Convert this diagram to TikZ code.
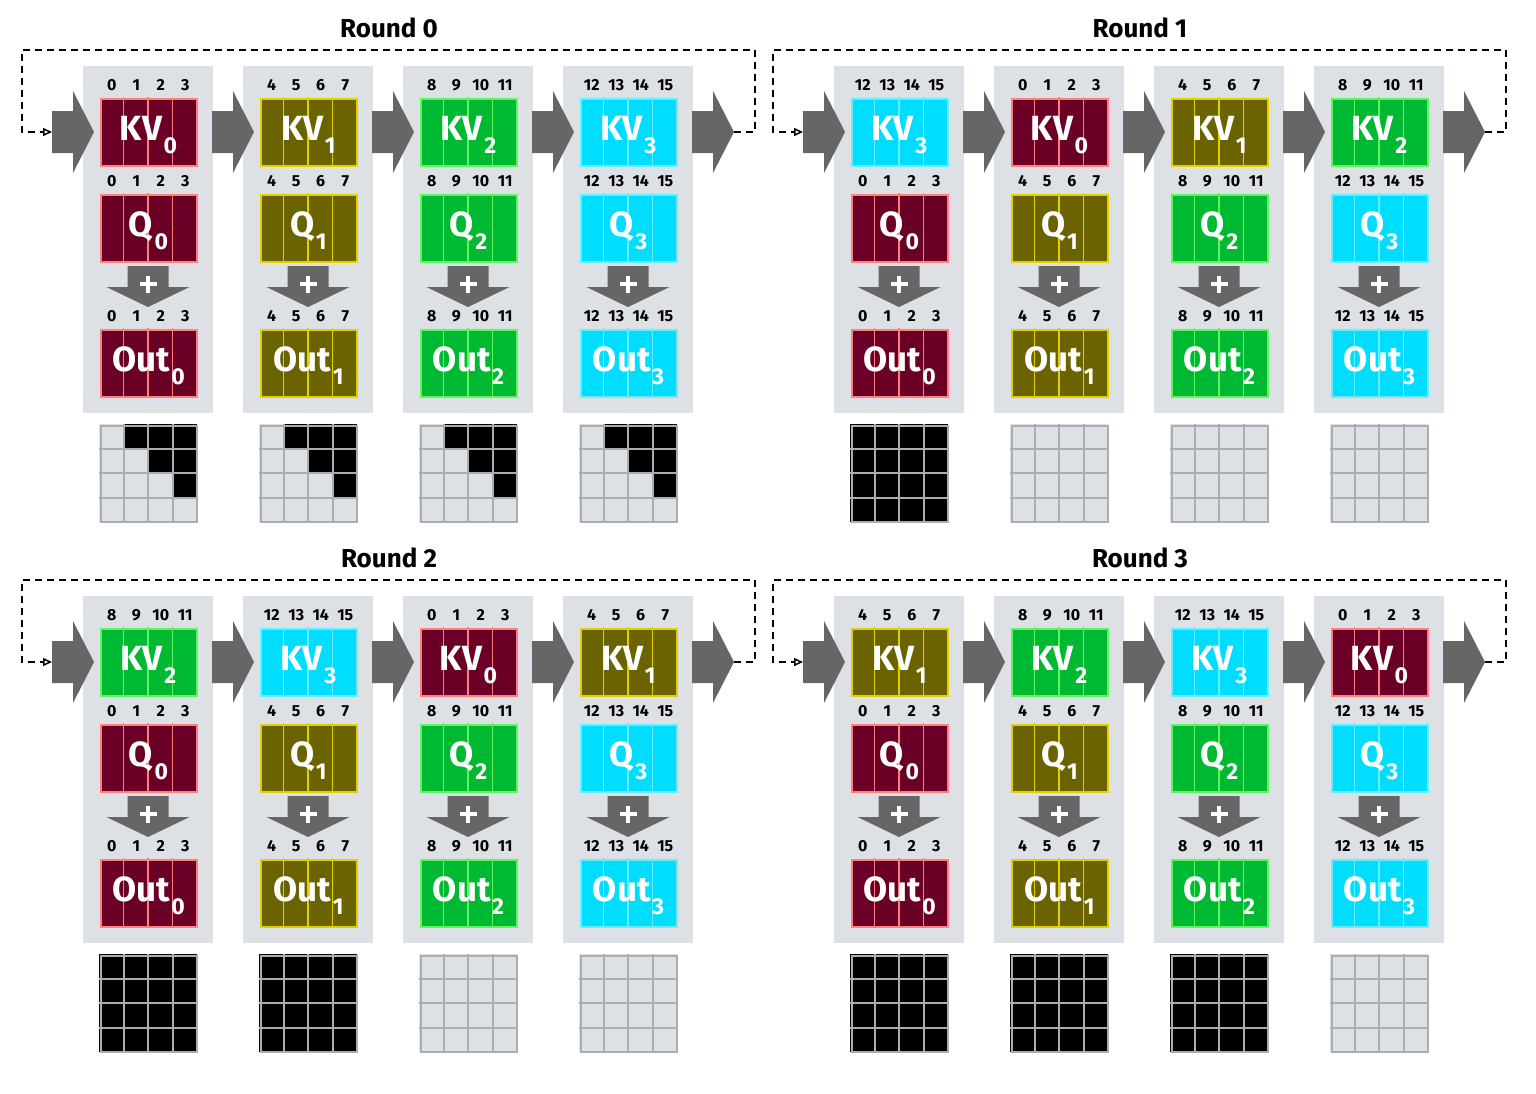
\documentclass[tikz,border=0pt]{standalone}
\usepackage{fontspec}
\setmainfont{Fira Sans}
\usetikzlibrary{arrows.meta}
\definecolor{c0}{HTML}{6B0026}\definecolor{b0}{HTML}{FF7F7F}
\definecolor{c1}{HTML}{6B6300}\definecolor{b1}{HTML}{E0D000}
\definecolor{c2}{HTML}{00B932}\definecolor{b2}{HTML}{5EF55E}
\definecolor{c3}{HTML}{00DDFF}\definecolor{b3}{HTML}{66EEFF}
\definecolor{colbg}{HTML}{DDE0E4}
\definecolor{arrgray}{HTML}{666666}
\definecolor{gridln}{HTML}{A9AEB3}
\definecolor{celloff}{HTML}{DDE0E4}
\tikzset{
  colbox/.style={fill=colbg, draw=none, minimum width=130pt, minimum height=347pt, inner sep=0pt, anchor=north west},
  bigarrow/.style={fill=arrgray, draw=none},
  dig/.style={font=\fontsize{16}{16}\selectfont\bfseries, inner sep=0pt, anchor=base},
  blk/.style={line width=2pt, minimum width=96pt, minimum height=67pt, inner sep=0pt, anchor=north west},
  blktext/.style={text=white, inner sep=0pt, anchor=base, font=\fontsize{35}{35}\selectfont\bfseries},
  roundtitle/.style={font=\fontsize{26}{26}\selectfont\bfseries, inner sep=0pt, anchor=base},
  loopline/.style={dash pattern=on 7pt off 5pt, line width=1.5pt, -{Triangle[open,length=9pt,width=8pt]}},
  gridbox/.style={draw=gridln, line width=2pt, minimum width=96pt, minimum height=96pt, inner sep=0pt, anchor=north west}
}
% #1 name, #2 x left, #3 y top, #4 colour index, #5 letters
\newcommand\blockbox[5]{%
  \node[blk, draw=b#4, fill=c#4] (#1) at (#2+1,#3+1) {};
  \foreach \i in {1,2,3}{\draw[b#4, line width=1.5pt] (#2+24.5*\i,#3) -- (#2+24.5*\i,#3+69);}
  \foreach \i in {0,1,2,3}{\pgfmathtruncatemacro\dd{4*#4+\i}\node[dig] at (#2+12.75+24.5*\i,#3-7) {\dd};}
  \node[blktext] at (#2+49.5,#3+43) {#5\hspace{1.5pt}\raisebox{-13pt}{\fontsize{23}{23}\selectfont\bfseries #4}};
}
\begin{document}
\begin{tikzpicture}[x=1pt,y=-1pt]
\useasboundingbox (0,0) rectangle (1536,1093);
\foreach \r/\ox/\oy in {0/0/0,1/751/0,2/0/530,3/751/530}{
  \node[roundtitle] (t\r) at (389+\ox,37+\oy) {Round \r};
  \foreach \j in {0,...,3}{
    \pgfmathsetmacro\cx{83+160*\j+\ox}
    \pgfmathsetmacro\cy{66+\oy}
    \node[colbox] (col\r\j) at (\cx,\cy) {};
  }
  \foreach \j in {0,...,4}{
    \pgfmathsetmacro\ax{52+160*\j+\ox}
    \pgfmathsetmacro\ay{132+\oy}
    \fill[bigarrow] (\ax,\ay-21) -- (\ax+21,\ay-21) -- (\ax+21,\ay-41) -- (\ax+42,\ay)
       -- (\ax+21,\ay+41) -- (\ax+21,\ay+21) -- (\ax,\ay+21) -- cycle;
  }
  \coordinate (lo\r) at (734+\ox,132+\oy);
  \coordinate (li\r) at (52+\ox,132+\oy);
  \draw[loopline] (lo\r) -- ++(21,0) -- ++(0,-82) -- ++(-733,0) -- ++(0,82) -- (li\r);
  \foreach \j in {0,...,3}{
    \pgfmathsetmacro\bx{99+160*\j+\ox}
    \pgfmathtruncatemacro\kv{mod(\j-\r+4,4)}
    \pgfmathsetmacro\ya{97+\oy}
    \pgfmathsetmacro\yb{193+\oy}
    \pgfmathsetmacro\yc{328+\oy}
    \blockbox{kv\r\j}{\bx}{\ya}{\kv}{KV}
    \blockbox{q\r\j}{\bx}{\yb}{\j}{Q}
    \blockbox{o\r\j}{\bx}{\yc}{\j}{Out}
    \pgfmathsetmacro\px{\bx+49}
    \pgfmathsetmacro\py{266+\oy}
    \fill[bigarrow] (\px-20.5,\py) -- (\px+20.5,\py) -- (\px+20.5,\py+21) -- (\px+41.5,\py+21)
       -- (\px,\py+41) -- (\px-41.5,\py+21) -- (\px-20.5,\py+21) -- cycle;
    \draw[white, line width=4.5pt] (\px-8.5,\py+18) -- (\px+8.5,\py+18);
    \draw[white, line width=4.5pt] (\px,\py+9.5) -- (\px,\py+26.5);
    \pgfmathsetmacro\gy{424+\oy}
    \foreach \a in {0,...,3}{
      \foreach \b in {0,...,3}{
        \pgfmathtruncatemacro\on{(\r==0)*(\b>\a)+(\r>0)*(\j<\r)}
        \ifnum\on=1 \def\cc{black}\else\def\cc{celloff}\fi
        \fill[\cc] (\bx+24.5*\b,\gy+24.5*\a) rectangle ++(24.5,24.5);
      }
    }
    \foreach \i in {1,2,3}{
      \draw[gridln, line width=2pt] (\bx+24.5*\i,\gy) -- (\bx+24.5*\i,\gy+98);
      \draw[gridln, line width=2pt] (\bx,\gy+24.5*\i) -- (\bx+98,\gy+24.5*\i);
    }
    \node[gridbox] (g\r\j) at (\bx+1,\gy+1) {};
  }
}
\end{tikzpicture}
\end{document}
